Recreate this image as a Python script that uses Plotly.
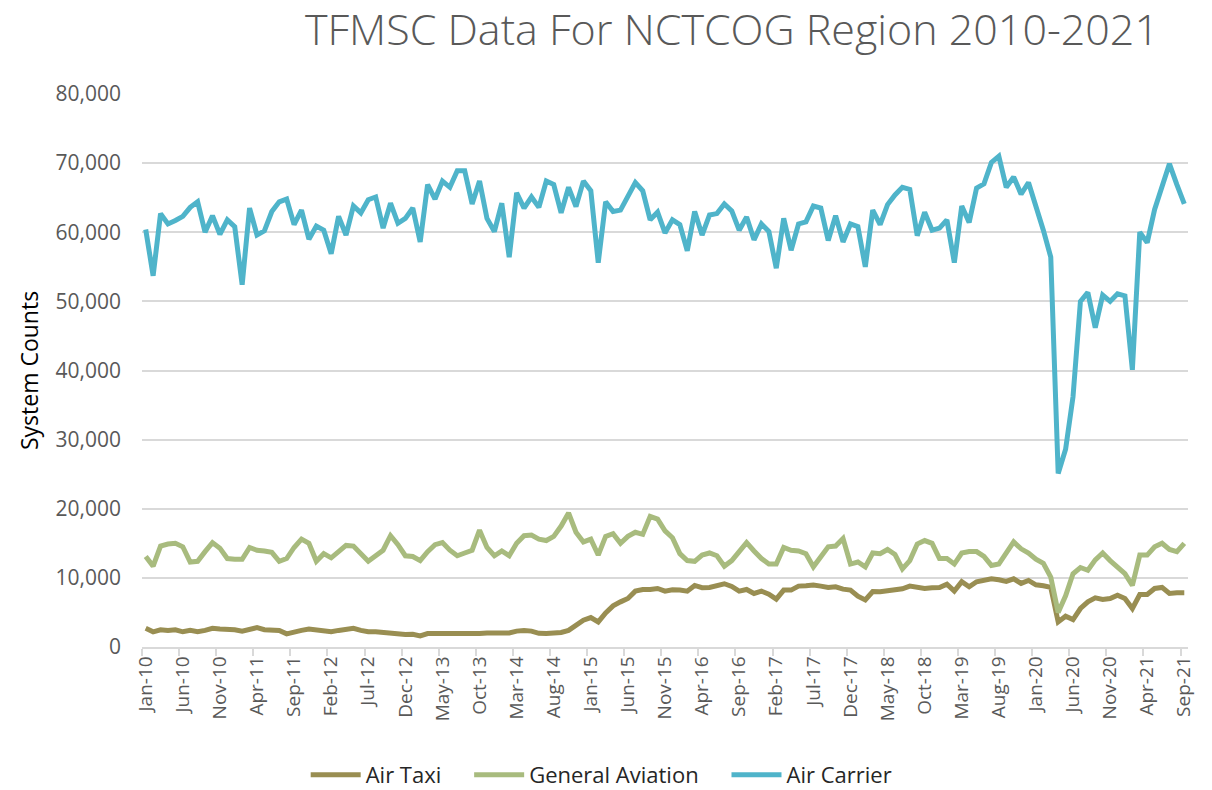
import pandas as pd
import plotly.graph_objects as go

# Monthly TFMSC system counts, Jan-2010 .. Sep-2021 (141 months)
months = pd.date_range("2010-01-01", periods=141, freq="MS").strftime("%b-%y").tolist()

air_carrier = [
    60400, 53700, 62700, 61200, 61700, 62300, 63600, 64400, 60000, 62400,
    59700, 61800, 60800, 52400, 63500, 59600, 60200, 63000, 64400, 64800,
    61100, 63200, 59000, 60900, 60300, 56900, 62300, 59600, 63800, 62800,
    64700, 65100, 60600, 64200, 61300, 62000, 63500, 58600, 66900, 64800,
    67400, 66500, 68900, 68900, 64100, 67400, 62000, 60100, 64200, 56400,
    65700, 63500, 65100, 63600, 67400, 66900, 62800, 66500, 63700, 67400,
    66000, 55600, 64400, 63000, 63200, 65400, 67200, 66000, 61800, 62900,
    59900, 61800, 61100, 57300, 63000, 59600, 62500, 62700, 64100, 63100,
    60300, 62200, 58900, 61200, 60100, 54800, 62000, 57400, 61200, 61500,
    63800, 63500, 58800, 62400, 58600, 61200, 60800, 55000, 63200, 61100,
    64000, 65400, 66500, 66200, 59500, 62900, 60300, 60600, 61800, 55600,
    63800, 61400, 66400, 67000, 70100, 71000, 66500, 68000, 65500, 67200,
    63800, 60300, 56400, 25100, 28600, 36200, 50000, 51300, 46200, 50900,
    50000, 51100, 50800, 40100, 60000, 58500, 63300, 66400, 69900, 66900,
    64100,
]

general_aviation = [
    13100, 11700, 14600, 14900, 15000, 14500, 12300, 12400, 13800, 15100,
    14300, 12800, 12700, 12700, 14400, 14000, 13900, 13700, 12400, 12800,
    14400, 15600, 15000, 12400, 13500, 12900, 13800, 14700, 14600, 13600,
    12400, 13200, 14000, 16100, 14800, 13200, 13100, 12500, 13800, 14800,
    15100, 14000, 13200, 13600, 14000, 16900, 14400, 13200, 13900, 13200,
    15000, 16100, 16200, 15600, 15400, 16000, 17500, 19400, 16600, 15200,
    15600, 13300, 16000, 16400, 15000, 16000, 16600, 16300, 18900, 18500,
    16800, 15800, 13500, 12500, 12400, 13300, 13600, 13200, 11700, 12500,
    13900, 15100, 13900, 12800, 12000, 12000, 14400, 14000, 13900, 13500,
    11600, 13200, 14500, 14600, 15700, 12000, 12300, 11600, 13600, 13500,
    14100, 13400, 11300, 12500, 14900, 15400, 15000, 12800, 12800, 12000,
    13600, 13800, 13800, 13100, 11800, 12000, 13500, 15200, 14200, 13600,
    12700, 12100, 10100, 5000, 7400, 10600, 11500, 11100, 12600, 13600,
    12500, 11500, 10600, 8900, 13300, 13300, 14500, 15000, 14100, 13800,
    15000,
]

air_taxi = [
    2700, 2200, 2500, 2400, 2500, 2200, 2400, 2200, 2400, 2700,
    2600, 2600, 2500, 2300, 2600, 2800, 2500, 2400, 2400, 1900,
    2200, 2400, 2600, 2500, 2300, 2200, 2400, 2500, 2700, 2400,
    2200, 2200, 2100, 1900, 1800, 1800, 1840, 1600, 1940, 1940,
    1940, 1900, 1840, 1800, 1900, 1940, 2030, 2080, 2080, 2030,
    2300, 2400, 2300, 1980, 1940, 1940, 2100, 2400, 3150, 3870,
    4260, 3630, 4940, 5950, 6530, 7020, 8080, 8320, 8320, 8470,
    8080, 8280, 8230, 8080, 8900, 8570, 8620, 8900, 9150, 8760,
    8080, 8320, 7740, 8080, 7650, 6920, 8230, 8230, 8810, 8860,
    8950, 8810, 8620, 8710, 8370, 8230, 7360, 6820, 8030, 7990,
    8130, 8230, 8420, 8810, 8620, 8470, 8570, 8620, 9100, 8080,
    9440, 8710, 9440, 9630, 9870, 9730, 9490, 9870, 9200, 9630,
    9000, 8860, 8620, 3630, 4450, 3970, 5570, 6530, 7110, 6870,
    7020, 7500, 7020, 5570, 7600, 7600, 8470, 8620, 7740, 7840,
    7840,
]

series = [
    ("Air Taxi", air_taxi, "#998E52"),
    ("General Aviation", general_aviation, "#A8BB7E"),
    ("Air Carrier", air_carrier, "#4FB4CA"),
]

x = list(range(len(months)))
label_idx = list(range(0, len(months), 5))

fig = go.Figure()
for i, (name, vals, color) in enumerate(series):
    # pad legend entries (non-breaking spaces) to get Excel-like gaps
    pad = "\u00a0" * 4 if i < len(series) - 1 else ""
    fig.add_trace(go.Scatter(
        x=x, y=vals, name=name + pad, mode="lines",
        line=dict(color=color, width=5),
    ))

GRAY = "#595959"
GRID = "#D9D9D9"

# page body has an 8px margin, so the figure is shrunk/offset to compensate
fig.update_layout(
    width=1204, height=782,
    paper_bgcolor="white", plot_bgcolor="white",
    margin=dict(l=134, r=24, t=86, b=143, autoexpand=False),
    font=dict(family="Open Sans", color=GRAY),
    title=dict(
        text="TFMSC Data For NCTCOG Region 2010-2021",
        x=0.564, xref="paper", xanchor="center",
        y=0.972, yref="container", yanchor="middle",
        font=dict(family="Open Sans", size=43, color=GRAY, weight=300),
    ),
    showlegend=True,
    legend=dict(
        orientation="h", x=0.439, xanchor="center", y=-0.2315, yanchor="middle",
        font=dict(size=22, color="#262626"), itemwidth=50,
        traceorder="normal",
    ),
    xaxis=dict(
        range=[-0.5, len(months) - 0.5],
        tickmode="array", tickvals=label_idx,
        ticktext=[months[i] for i in label_idx],
        tickangle=-90, ticks="",
        tickfont=dict(size=19, color=GRAY),
        showgrid=False, zeroline=False,
        showline=True, linecolor=GRID, linewidth=1.5,
        minor=dict(
            tickmode="array", tickvals=[i - 0.5 for i in label_idx],
            ticks="outside", ticklen=7, tickcolor=GRID, tickwidth=1.5,
            showgrid=False,
        ),
    ),
    yaxis=dict(
        range=[0, 80000], tickmode="linear", tick0=0, dtick=10000,
        tickformat=",d", tickfont=dict(size=21, color=GRAY),
        showgrid=True, gridcolor=GRID, gridwidth=1.5,
        zeroline=False, showline=False, ticks="",
        ticklabelstandoff=20,
        title=dict(text="System Counts", font=dict(size=23, color="black"),
                   standoff=10),
    ),
)

fig.write_html("out.html")
